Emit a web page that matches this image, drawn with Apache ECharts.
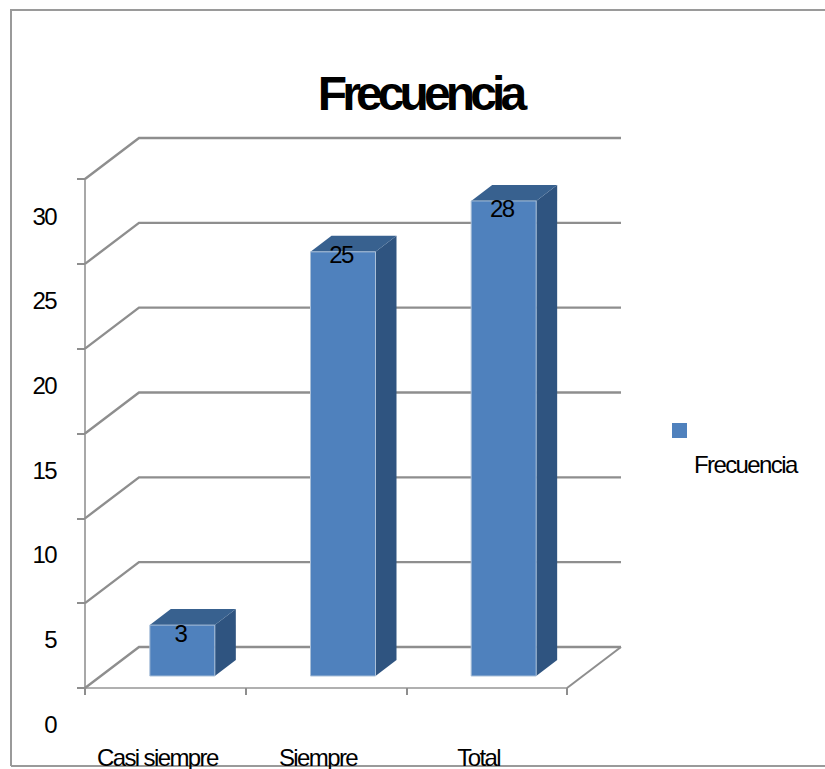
<!DOCTYPE html>
<html><head><meta charset="utf-8">
<style>
html,body{margin:0;padding:0;background:#fff}
#chart{width:825px;height:769px}
#chart text{letter-spacing:-1.6px}
#chart text[style*="48px"]{letter-spacing:-4.9px}
</style>
<script src="https://cdn.jsdelivr.net/npm/echarts@6/dist/echarts.min.js"></script>
</head><body><div id="chart"></div>
<script>
var categories = ['Casi siempre', 'Siempre', 'Total'];
var seriesName = 'Frecuencia';
var values = [3, 25, 28];
var yTicks = [0, 5, 10, 15, 20, 25, 30];

var DX = 54, DY = 41;            // wall depth
var BAR_W = 65, BAR_DX = 21, BAR_DY = 16;
var FLOOR_DX = 17, FLOOR_DY = 12;
var LABEL_DY = [8, 3, 8];

var font = 'Liberation Sans';
var chart = echarts.init(document.getElementById('chart'), null, {renderer: 'svg'});

function wallItem(params, api) {
  var v = api.value(0);
  var cs = params.coordSys;
  var y = api.coord([0, v])[1];
  var x0 = cs.x, x1 = cs.x + cs.width;
  var col = '#8e8e8e';
  var children = [{
    type: 'polyline',
    shape: {points: [[x0, y], [x0 + DX, y - DY], [x1 + DX, y - DY]]},
    style: {stroke: col, lineWidth: 2.4, fill: null}
  }];
  if (v === 0) {
    children.push({
      type: 'line',
      shape: {x1: x1, y1: y, x2: x1 + DX, y2: y - DY},
      style: {stroke: col, lineWidth: 2}
    });
  }
  return {type: 'group', children: children};
}

function barItem(params, api) {
  var idx = api.value(0), v = api.value(1);
  var top = api.coord([idx, v]), base = api.coord([idx, 0]);
  var l = top[0] + FLOOR_DX - BAR_W / 2, r = l + BAR_W;
  var t = top[1] - FLOOR_DY, b = base[1] - FLOOR_DY;
  return {
    type: 'group',
    children: [
      {type: 'polygon', shape: {points: [[r, t], [r + BAR_DX, t - BAR_DY], [r + BAR_DX, b - BAR_DY], [r, b]]},
        style: {fill: '#2f5480'}},
      {type: 'polygon', shape: {points: [[l, t], [l + BAR_DX, t - BAR_DY], [r + BAR_DX, t - BAR_DY], [r, t]]},
        style: {fill: '#38618f'}},
      {type: 'rect', shape: {x: l, y: t, width: BAR_W, height: b - t},
        style: {fill: '#4f81bd', stroke: '#a9bfd8', lineWidth: 1}},
      {type: 'text', x: (l + r) / 2 - 2, y: t + LABEL_DY[idx],
        style: {text: String(v), fill: '#000', font: '24px "' + font + '"', align: 'center', verticalAlign: 'middle'}}
    ]
  };
}

chart.setOption({
  animation: false,
  backgroundColor: '#ffffff',
  title: {
    text: seriesName, left: 415, top: 64, textAlign: 'center',
    textStyle: {fontFamily: font, fontSize: 48, fontWeight: 'bold', color: '#000'}
  },
  legend: {
    left: 667, top: 418, orient: 'vertical', itemWidth: 15, itemHeight: 15, itemGap: 0,
    icon: 'rect', selectedMode: false,
    data: [{name: seriesName, itemStyle: {color: '#4f81bd'}}],
    formatter: function (n) { return '{a|' + n + '}'; },
    textStyle: {rich: {a: {fontFamily: font, fontSize: 24, color: '#000', padding: [67, 0, 0, 2]}}}
  },
  grid: [
    {left: 85, top: 179, width: 482, height: 509, containLabel: false},
    {left: 77, top: 216, width: 482, height: 508, containLabel: false}
  ],
  xAxis: [
    {type: 'category', gridIndex: 0, data: categories,
      axisLine: {lineStyle: {color: '#b0b0b0', width: 2}},
      axisTick: {show: true, length: 7, alignWithLabel: false, lineStyle: {color: '#8e8e8e', width: 2}},
      axisLabel: {show: false}, splitLine: {show: false}},
    {type: 'category', gridIndex: 1, data: categories,
      axisLine: {show: false}, axisTick: {show: false},
      axisLabel: {show: true, interval: 0, margin: 21, hideOverlap: false, fontFamily: font, fontSize: 24, color: '#000'}}
  ],
  yAxis: [
    {type: 'value', gridIndex: 0, min: 0, max: 30, interval: 5,
      axisLine: {show: true, onZero: false, lineStyle: {color: '#a8a8a8', width: 2}},
      axisTick: {show: true, length: 8, lineStyle: {color: '#8e8e8e', width: 2}},
      axisLabel: {show: false}, splitLine: {show: false}},
    {type: 'value', gridIndex: 1, min: 0, max: 30, interval: 5,
      axisLine: {show: false}, axisTick: {show: false}, splitLine: {show: false},
      axisLabel: {show: true, margin: 21, fontFamily: font, fontSize: 24, color: '#000'}}
  ],
  graphic: [{
    type: 'polyline', silent: true,
    shape: {points: [[11, 766], [11, 10], [825, 10]]},
    style: {stroke: '#9a9a9a', lineWidth: 2, fill: null}
  }, {
    type: 'line', silent: true,
    shape: {x1: 11, y1: 766, x2: 825, y2: 766},
    style: {stroke: '#9a9a9a', lineWidth: 2}
  }],
  series: [
    {type: 'custom', name: 'walls', xAxisIndex: 0, yAxisIndex: 0, z: 1,
      coordinateSystem: 'cartesian2d', renderItem: wallItem, silent: true,
      data: yTicks.map(function (t) { return [t]; }),
      encode: {y: 0}},
    {type: 'custom', name: seriesName, xAxisIndex: 0, yAxisIndex: 0, z: 3,
      coordinateSystem: 'cartesian2d', renderItem: barItem,
      itemStyle: {color: '#4f81bd'},
      data: values.map(function (v, i) { return [i, v]; }),
      encode: {x: 0, y: 1}}
  ]
});
</script></body></html>
